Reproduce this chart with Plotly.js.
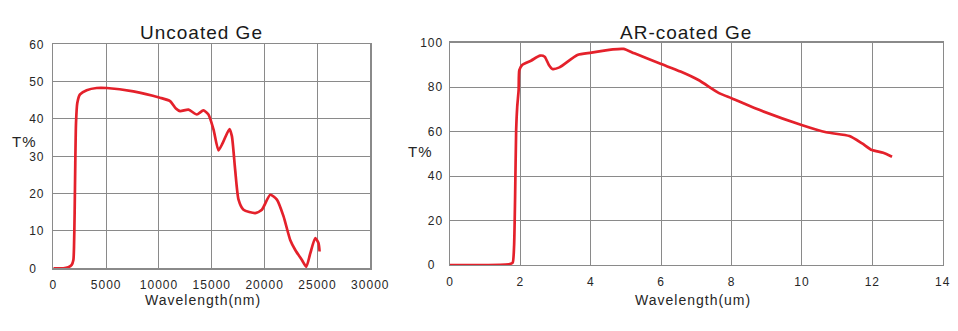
<!DOCTYPE html>
<html>
<head>
<meta charset="utf-8">
<script src="https://cdn.plot.ly/plotly-3.0.1.min.js"></script>
<style>
  html, body { margin: 0; padding: 0; background: #fff; }
  #chart { width: 958px; height: 331px; }
  text.annotation-text, .xtick text, .x2tick text, .ytick text, .y2tick text { letter-spacing: 1px; }
</style>
</head>
<body>
<div id="chart"></div>
<script>
// ---- Data ----
// Uncoated Ge: wavelength (nm) vs transmission (%)
const uncoatedWavelength = [0, 950, 1420, 1740, 1900, 1960, 2020, 2080, 2150, 2270, 2530, 3160, 4100, 5050, 7580, 10100, 11050, 11600, 12000, 12790, 13580, 14200, 14680, 15160, 15630, 16040, 16670, 16900, 17210, 17530, 18000, 19110, 19740, 20530, 21160, 21790, 22420, 22900, 23530, 23940, 24320, 24790, 25100, 25200];
const uncoatedT = [0, 0, 0.3, 0.9, 2.2, 5.8, 14.8, 28, 39, 44.3, 46.6, 47.7, 48.3, 48.3, 47.4, 45.7, 44.8, 42.8, 42.1, 42.5, 41.2, 42.3, 41.2, 37.2, 31.6, 33.6, 37.3, 35.4, 26.4, 18.4, 15.7, 14.8, 15.7, 19.7, 18.4, 13.9, 7.6, 4.9, 2.2, 0.4, 4.0, 8.1, 6.7, 4.5];

// AR-coated Ge: wavelength (um) vs transmission (%)
const coatedWavelength = [0, 1.09, 1.70, 1.78, 1.82, 1.85, 1.88, 1.91, 1.95, 1.97, 2.05, 2.30, 2.56, 2.69, 2.81, 2.91, 3.11, 3.62, 4.02, 4.63, 4.93, 5.24, 6.0, 6.55, 7.06, 7.66, 8.0, 8.67, 9.99, 10.69, 11.35, 11.71, 11.99, 12.31, 12.56];
const coatedT = [0, 0, 0.45, 1.0, 8.2, 30.7, 60.7, 71.2, 78.7, 87.7, 90.0, 91.9, 94.2, 93.7, 90.0, 88.2, 88.9, 94.5, 95.5, 97.0, 97.2, 95.2, 90.4, 87.0, 83.2, 77.2, 75.0, 70.5, 63.0, 59.7, 58.0, 54.7, 51.7, 50.5, 48.7];

// Tick values / labels
const uncoatedXTicks = [0, 5000, 10000, 15000, 20000, 25000, 30000];
const uncoatedXLabels = ['0', '5000', '10000', '15000', '20000', '25000', '30000'];
const uncoatedYTicks = [0, 10, 20, 30, 40, 50, 60];
const uncoatedYLabels = ['0\u2007', '10', '20', '30', '40', '50', '60'];
const coatedXTicks = [0, 2, 4, 6, 8, 10, 12, 14];
const coatedYTicks = [0, 20, 40, 60, 80, 100];
const coatedYLabels = ['0\u2007', '20', '40', '60', '80', '100'];

const chartTitles = ['Uncoated Ge', 'AR-coated Ge'];
const xAxisTitles = ['Wavelength(nm)', 'Wavelength(um)'];
const yAxisTitle = 'T%';

// ---- Styling ----
const W = 958, H = 331;
const RED = '#e4212b';
const GRID = '#8a8a8a';
const TXT = '#262626';
const FONT = 'Liberation Sans, Arial, sans-serif';

const px = (v) => v / W;
const py = (v) => (H - v) / H;

const baseAxis = {
  showgrid: true, gridcolor: GRID, gridwidth: 1,
  showline: true, linecolor: GRID, linewidth: 1.4, mirror: true,
  zeroline: false, ticks: 'outside', tickcolor: 'rgba(0,0,0,0)',
  tickfont: { family: FONT, size: 12, color: TXT },
  tickmode: 'array', fixedrange: true
};

const traces = [
  { x: uncoatedWavelength, y: uncoatedT, xaxis: 'x', yaxis: 'y', type: 'scatter', mode: 'lines',
    line: { color: RED, width: 2.7, shape: 'spline', smoothing: 0.6 }, hoverinfo: 'skip' },
  { x: coatedWavelength, y: coatedT, xaxis: 'x2', yaxis: 'y2', type: 'scatter', mode: 'lines',
    line: { color: RED, width: 2.7, shape: 'spline', smoothing: 0.6 }, hoverinfo: 'skip' }
];

const layout = {
  width: W, height: H,
  margin: { l: 0, r: 0, t: 0, b: 0 },
  paper_bgcolor: '#ffffff', plot_bgcolor: '#ffffff',
  showlegend: false,
  xaxis: Object.assign({}, baseAxis, { domain: [px(53.3), px(370.3)], range: [0, 30000], tickvals: uncoatedXTicks, ticktext: uncoatedXLabels, ticklen: 5, anchor: 'y' }),
  yaxis: Object.assign({}, baseAxis, { domain: [py(268.3), py(44.3)], range: [0, 60], tickvals: uncoatedYTicks, ticktext: uncoatedYLabels, ticklen: 5, anchor: 'x' }),
  xaxis2: Object.assign({}, baseAxis, { domain: [px(450), px(942.7)], range: [0, 14], tickvals: coatedXTicks, ticklen: 5, anchor: 'y2' }),
  yaxis2: Object.assign({}, baseAxis, { domain: [py(265), py(42.7)], range: [0, 100], tickvals: coatedYTicks, ticktext: coatedYLabels, ticklen: 3, anchor: 'x2' }),
  annotations: [
    { text: chartTitles[0], x: px(201.5), y: py(33), xref: 'paper', yref: 'paper', xanchor: 'center', yanchor: 'middle', showarrow: false, font: { family: FONT, size: 19, color: '#1a1a1a' } },
    { text: chartTitles[1], x: px(686), y: py(33), xref: 'paper', yref: 'paper', xanchor: 'center', yanchor: 'middle', showarrow: false, font: { family: FONT, size: 19, color: '#1a1a1a' } },
    { text: xAxisTitles[0], x: px(202.5), y: py(300), xref: 'paper', yref: 'paper', xanchor: 'center', yanchor: 'middle', showarrow: false, font: { family: FONT, size: 14, color: TXT } },
    { text: xAxisTitles[1], x: px(693), y: py(300), xref: 'paper', yref: 'paper', xanchor: 'center', yanchor: 'middle', showarrow: false, font: { family: FONT, size: 14, color: TXT } },
    { text: yAxisTitle, x: px(24), y: py(141.7), xref: 'paper', yref: 'paper', xanchor: 'center', yanchor: 'middle', showarrow: false, font: { family: FONT, size: 15, color: TXT } },
    { text: yAxisTitle, x: px(420), y: py(151.7), xref: 'paper', yref: 'paper', xanchor: 'center', yanchor: 'middle', showarrow: false, font: { family: FONT, size: 15, color: TXT } }
  ]
};

Plotly.newPlot('chart', traces, layout, { staticPlot: true, displayModeBar: false });
</script>
</body>
</html>
